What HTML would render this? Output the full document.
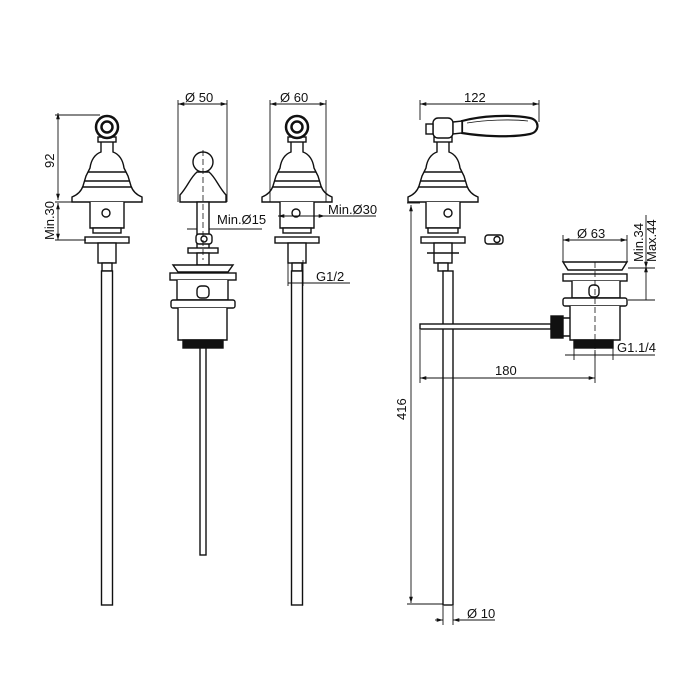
<!DOCTYPE html>
<html><head><meta charset="utf-8"><style>html,body{margin:0;padding:0;background:#fff}svg{display:block}text{font-family:"Liberation Sans",sans-serif;font-size:13px;fill:#111}</style></head>
<body>
<svg width="700" height="700" viewBox="0 0 700 700" xmlns="http://www.w3.org/2000/svg">
<defs>
<marker id="a" viewBox="0 0 10 10" refX="10" refY="5" markerWidth="7" markerHeight="7" orient="auto-start-reverse"><path d="M0,2 L10,5 L0,8 z" fill="#111"/></marker>
<g id="tap" fill="#fff" stroke="#111" stroke-width="1.4">
<path d="M-6,140 L-6,152 C-12,154 -16,160 -17,168 L-21,176 L-24,186 C-26,192 -30,195 -35,197 L-35,202 L35,202 L35,197 C30,195 26,192 24,186 L21,176 L17,168 C16,160 12,154 6,152 L6,140 Z"/>
<line x1="-19" y1="172" x2="19" y2="172"/><line x1="-22" y1="181" x2="22" y2="181"/><line x1="-24" y1="187" x2="24" y2="187"/>
<rect x="-9" y="137" width="18" height="5"/>
<circle cx="0" cy="127" r="11" stroke-width="2.5"/><circle cx="0" cy="127" r="5.5" stroke-width="2.5"/>
<path d="M-17,202 L-17,228 L17,228 L17,202"/>
<circle cx="-1" cy="213" r="4"/>
<rect x="-14" y="228" width="28" height="5"/>
<rect x="-22" y="237" width="44" height="6"/>
<rect x="-9" y="243" width="18" height="20"/>
<rect x="-5" y="263" width="10" height="8"/>
<rect x="-5.5" y="271" width="11" height="334"/>
</g>
</defs>
<g stroke="#111" stroke-width="0.9" fill="none">
<use href="#tap" x="107"/>
<line x1="58" y1="113" x2="58" y2="200" marker-start="url(#a)" marker-end="url(#a)"/>
<line x1="58" y1="203" x2="58" y2="240" marker-start="url(#a)" marker-end="url(#a)"/>
<line x1="55" y1="115" x2="100" y2="115"/><line x1="55" y1="202" x2="80" y2="202"/><line x1="55" y1="240" x2="86" y2="240"/>
<use href="#tap" x="297"/>
<line x1="270" y1="100" x2="270" y2="202"/><line x1="326" y1="100" x2="326" y2="202"/>
<line x1="270" y1="104" x2="326" y2="104" marker-start="url(#a)" marker-end="url(#a)"/>
<line x1="278" y1="216" x2="376" y2="216"/>
<line x1="278" y1="216" x2="282" y2="216" marker-start="url(#a)"/>
<line x1="325" y1="216" x2="314" y2="216" marker-start="url(#a)"/>
<line x1="288" y1="260" x2="288" y2="286"/><line x1="303" y1="260" x2="303" y2="286"/>
<line x1="288" y1="283" x2="350" y2="283"/>
<line x1="178" y1="100" x2="178" y2="202"/><line x1="227" y1="100" x2="227" y2="202"/>
<line x1="178" y1="104" x2="227" y2="104" marker-start="url(#a)" marker-end="url(#a)"/>
<line x1="187" y1="229" x2="262" y2="229"/>
</g>
<g fill="#fff" stroke="#111" stroke-width="1.4">
<circle cx="203" cy="162" r="10"/>
<path d="M197,172 C190,178 188,186 180,195 L180,202 L226,202 L226,195 C218,186 216,178 209,172 Z"/>
<rect x="197" y="202" width="12" height="50"/>
<rect x="196" y="234" width="16" height="10" rx="3"/><circle cx="204" cy="239" r="3"/>
<rect x="188" y="248" width="30" height="5"/>
<rect x="197" y="253" width="12" height="12"/>
<path d="M173,265 L233,265 L228,272 L178,272 Z"/>
<rect x="170" y="273" width="66" height="7"/>
<path d="M177,280 L177,300 L228,300 L228,280"/>
<rect x="197" y="286" width="12" height="12" rx="4"/>
<rect x="171" y="300" width="64" height="8" rx="2"/>
<path d="M178,308 L178,340 L227,340 L227,308"/>
<rect x="183" y="340" width="40" height="8" fill="#111"/>
<rect x="200" y="348" width="6" height="207"/>
</g>
<line x1="203" y1="150" x2="203" y2="260" stroke="#111" stroke-width="0.8" stroke-dasharray="6,3"/>
<g fill="#fff" stroke="#111" stroke-width="1.4">
<path d="M437,140 L437,152 C431,154 427,160 426,168 L422,176 L419,186 C417,192 413,195 408,197 L408,202 L478,202 L478,197 C473,195 469,192 467,186 L464,176 L460,168 C459,160 455,154 449,152 L449,140 Z"/>
<line x1="424" y1="172" x2="462" y2="172"/><line x1="421" y1="181" x2="465" y2="181"/><line x1="419" y1="187" x2="467" y2="187"/>
<rect x="434" y="137" width="18" height="5"/>
<rect x="433" y="118" width="20" height="20" rx="5"/>
<rect x="426" y="124" width="7" height="10"/>
<path d="M462,121 C480,116 510,114 530,118 C540,120 540,132 530,134 C510,138 480,136 462,133 Z" stroke-width="2.2"/>
<path d="M467,123 C485,120 510,119 528,121" stroke-width="0.8"/>
<path d="M453,122 L462,121 L462,133 L453,134 Z"/>
<path d="M426,202 L426,228 L460,228 L460,202"/>
<circle cx="448" cy="213" r="4"/>
<rect x="428" y="228" width="30" height="5"/>
<rect x="421" y="237" width="44" height="6"/>
<rect x="434" y="243" width="18" height="20"/>
<line x1="427" y1="253" x2="459" y2="253"/>
<rect x="438" y="263" width="10" height="8"/>
<rect x="443" y="271" width="10" height="334"/>
<rect x="420" y="324" width="131" height="5"/>
<rect x="551" y="316" width="12" height="22" fill="#111"/>
<path d="M563,318 L572,318 L575,327 L572,336 L563,336 Z"/>
<rect x="485" y="235" width="18" height="9" rx="3"/><circle cx="497" cy="239.5" r="3"/>
<path d="M563,262 L627,262 L622,270 L568,270 Z"/>
<rect x="563" y="274" width="64" height="7"/>
<path d="M572,281 L572,298 L620,298 L620,281"/>
<rect x="589" y="285" width="10" height="12" rx="4"/>
<rect x="563" y="298" width="64" height="8" rx="2"/>
<path d="M570,306 L570,340 L620,340 L620,306"/>
<rect x="574" y="340" width="39" height="8" fill="#111"/>
</g>
<line x1="595" y1="262" x2="595" y2="360" stroke="#111" stroke-width="0.8" stroke-dasharray="6,3"/>
<g stroke="#111" stroke-width="0.9" fill="none">
<line x1="420" y1="100" x2="420" y2="120"/><line x1="539" y1="100" x2="539" y2="122"/>
<line x1="420" y1="104" x2="539" y2="104" marker-start="url(#a)" marker-end="url(#a)"/>
<line x1="411" y1="205" x2="411" y2="603" marker-start="url(#a)" marker-end="url(#a)"/>
<line x1="407" y1="203" x2="420" y2="203"/><line x1="407" y1="604" x2="443" y2="604"/>
<line x1="420" y1="330" x2="420" y2="383"/><line x1="595" y1="350" x2="595" y2="383"/>
<line x1="420" y1="378" x2="595" y2="378" marker-start="url(#a)" marker-end="url(#a)"/>
<line x1="563" y1="235" x2="563" y2="262"/><line x1="627" y1="235" x2="627" y2="262"/>
<line x1="563" y1="240" x2="627" y2="240" marker-start="url(#a)" marker-end="url(#a)"/>
<line x1="646" y1="215" x2="646" y2="268" marker-end="url(#a)"/>
<line x1="646" y1="266" x2="646" y2="300" marker-start="url(#a)"/>
<line x1="628" y1="268" x2="655" y2="268"/><line x1="628" y1="300" x2="655" y2="300"/>
<line x1="574" y1="348" x2="574" y2="360"/><line x1="613" y1="348" x2="613" y2="360"/>
<line x1="565" y1="355" x2="655" y2="355"/>
<line x1="443" y1="606" x2="443" y2="625"/><line x1="453" y1="606" x2="453" y2="625"/>
<line x1="435" y1="620" x2="443" y2="620" marker-end="url(#a)"/>
<line x1="460" y1="620" x2="453" y2="620" marker-end="url(#a)"/>
<line x1="453" y1="620" x2="495" y2="620"/>
</g>
<text x="185" y="102">Ø 50</text>
<text x="280" y="102">Ø 60</text>
<text x="217" y="224">Min.Ø15</text>
<text x="328" y="214">Min.Ø30</text>
<text x="316" y="281">G1/2</text>
<text x="464" y="102">122</text>
<text x="577" y="238">Ø 63</text>
<text x="617" y="352">G1.1/4</text>
<text x="495" y="375">180</text>
<text x="467" y="618">Ø 10</text>
<text transform="translate(54,168) rotate(-90)">92</text>
<text transform="translate(54,240) rotate(-90)">Min.30</text>
<text transform="translate(406,420) rotate(-90)">416</text>
<text transform="translate(643,262) rotate(-90)">Min.34</text>
<text transform="translate(656,262) rotate(-90)">Max.44</text>
</svg>
</body></html>
